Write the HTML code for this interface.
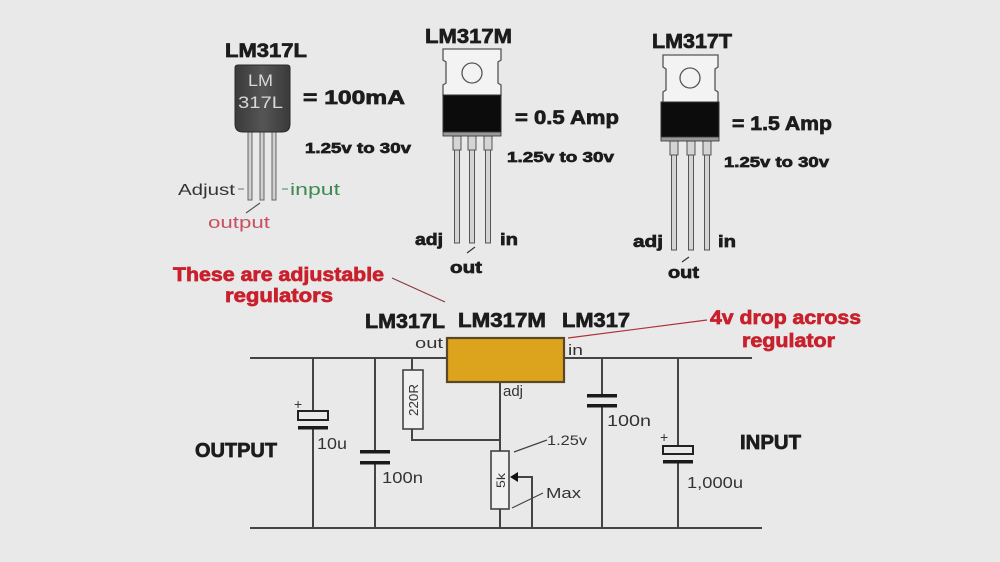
<!DOCTYPE html>
<html>
<head>
<meta charset="utf-8">
<style>
html,body{margin:0;padding:0;background:#e9e9e9;}
svg{display:block;}
.b{font-family:"Liberation Sans",Arial,sans-serif;font-weight:bold;fill:#1c1c1c;stroke:#1c1c1c;stroke-width:0.7;}
.r{font-family:"Liberation Sans",Arial,sans-serif;fill:#333;}
.red{font-family:"Liberation Sans",Arial,sans-serif;font-weight:bold;fill:#c8202c;stroke:#c8202c;stroke-width:0.7;}
</style>
</head>
<body>
<svg width="1000" height="562" viewBox="0 0 1000 562" xmlns="http://www.w3.org/2000/svg">
<defs>
<linearGradient id="g92" x1="0" y1="0" x2="1" y2="0">
<stop offset="0" stop-color="#3a3a3a"/><stop offset="0.5" stop-color="#555"/><stop offset="1" stop-color="#3a3a3a"/>
</linearGradient>
</defs>
<rect width="1000" height="562" fill="#e9e9e9"/>

<!-- ===== LM317L TO-92 ===== -->
<text class="b" x="225" y="57" font-size="19" textLength="82" lengthAdjust="spacingAndGlyphs">LM317L</text>
<g stroke="#666" stroke-width="1" fill="#cfcfcf">
<rect x="248" y="128" width="4" height="72"/>
<rect x="260" y="128" width="4" height="72"/>
<rect x="272" y="128" width="4" height="72"/>
</g>
<path d="M238,65 L287,65 Q290,65 290,68 L290,124 Q290,132 282,132 L243,132 Q235,132 235,124 L235,68 Q235,65 238,65 Z" fill="url(#g92)" stroke="#2a2a2a" stroke-width="1"/>
<text x="248" y="86" font-family="Liberation Sans,Arial,sans-serif" font-size="17" fill="#d8d8d8" textLength="25" lengthAdjust="spacingAndGlyphs">LM</text>
<text x="238" y="108" font-family="Liberation Sans,Arial,sans-serif" font-size="17" fill="#d8d8d8" textLength="45" lengthAdjust="spacingAndGlyphs">317L</text>
<text class="b" x="303" y="104" font-size="19" textLength="102" lengthAdjust="spacingAndGlyphs">= 100mA</text>
<text class="b" x="305" y="153" font-size="15" textLength="106" lengthAdjust="spacingAndGlyphs">1.25v to 30v</text>
<text class="r" x="178" y="195" font-size="16" textLength="57" lengthAdjust="spacingAndGlyphs">Adjust</text>
<line x1="238" y1="189" x2="244" y2="189" stroke="#888" stroke-width="1.2"/>
<line x1="282" y1="189" x2="288" y2="189" stroke="#5a9a6a" stroke-width="1.2"/>
<text x="290" y="195" font-family="Liberation Sans,Arial,sans-serif" font-size="17" fill="#3c8a52" textLength="50" lengthAdjust="spacingAndGlyphs">input</text>
<line x1="246" y1="213" x2="260" y2="203" stroke="#555" stroke-width="1.2"/>
<text x="208" y="228" font-family="Liberation Sans,Arial,sans-serif" font-size="17" fill="#c85060" textLength="62" lengthAdjust="spacingAndGlyphs">output</text>

<!-- ===== LM317M TO-220 ===== -->
<text class="b" x="425" y="43" font-size="20" textLength="87" lengthAdjust="spacingAndGlyphs">LM317M</text>
<g stroke="#555" stroke-width="1" fill="#d4d4d4">
<rect x="453" y="136" width="8" height="14"/>
<rect x="468" y="136" width="8" height="14"/>
<rect x="484" y="136" width="8" height="14"/>
<rect x="454.5" y="150" width="5" height="93"/>
<rect x="469.5" y="150" width="5" height="93"/>
<rect x="485.5" y="150" width="5" height="93"/>
</g>
<path d="M443,49 L501,49 L501,60 L498,62 L498,83 L501,85 L501,96 L443,96 L443,85 L446,83 L446,62 L443,60 Z" fill="#f3f3f3" stroke="#555" stroke-width="1.3"/>
<circle cx="472" cy="73" r="10" fill="#f3f3f3" stroke="#555" stroke-width="1.3"/>
<rect x="443" y="95" width="58" height="37" fill="#0c0c0c" stroke="#333" stroke-width="1"/>
<rect x="443" y="132" width="58" height="4" fill="#9a9a9a" stroke="#333" stroke-width="0.8"/>
<text class="b" x="515" y="124" font-size="19" textLength="104" lengthAdjust="spacingAndGlyphs">= 0.5 Amp</text>
<text class="b" x="507" y="162" font-size="15" textLength="107" lengthAdjust="spacingAndGlyphs">1.25v to 30v</text>
<text class="b" x="415" y="245" font-size="17" textLength="28" lengthAdjust="spacingAndGlyphs">adj</text>
<text class="b" x="500" y="245" font-size="17" textLength="18" lengthAdjust="spacingAndGlyphs">in</text>
<text class="b" x="450" y="273" font-size="17" textLength="32" lengthAdjust="spacingAndGlyphs">out</text>
<line x1="467" y1="253" x2="475" y2="247" stroke="#333" stroke-width="1.2"/>

<!-- ===== LM317T TO-220 ===== -->
<text class="b" x="652" y="48" font-size="20" textLength="80" lengthAdjust="spacingAndGlyphs">LM317T</text>
<g stroke="#555" stroke-width="1" fill="#d4d4d4">
<rect x="670" y="141" width="8" height="14"/>
<rect x="687" y="141" width="8" height="14"/>
<rect x="703" y="141" width="8" height="14"/>
<rect x="671.5" y="155" width="5" height="95"/>
<rect x="688.5" y="155" width="5" height="95"/>
<rect x="704.5" y="155" width="5" height="95"/>
</g>
<path d="M663,55 L718,55 L718,67 L715,69 L715,90 L718,92 L718,103 L663,103 L663,92 L666,90 L666,69 L663,67 Z" fill="#f3f3f3" stroke="#555" stroke-width="1.3"/>
<circle cx="690" cy="78" r="10" fill="#f3f3f3" stroke="#555" stroke-width="1.3"/>
<rect x="661" y="102" width="58" height="35" fill="#0c0c0c" stroke="#333" stroke-width="1"/>
<rect x="661" y="137" width="58" height="4" fill="#9a9a9a" stroke="#333" stroke-width="0.8"/>
<text class="b" x="732" y="130" font-size="19" textLength="100" lengthAdjust="spacingAndGlyphs">= 1.5 Amp</text>
<text class="b" x="724" y="167" font-size="15" textLength="105" lengthAdjust="spacingAndGlyphs">1.25v to 30v</text>
<text class="b" x="633" y="247" font-size="17" textLength="30" lengthAdjust="spacingAndGlyphs">adj</text>
<text class="b" x="718" y="247" font-size="17" textLength="18" lengthAdjust="spacingAndGlyphs">in</text>
<text class="b" x="668" y="278" font-size="17" textLength="31" lengthAdjust="spacingAndGlyphs">out</text>
<line x1="682" y1="262" x2="689" y2="257" stroke="#333" stroke-width="1.2"/>

<!-- ===== Circuit ===== -->
<text class="red" x="173" y="281" font-size="19" textLength="211" lengthAdjust="spacingAndGlyphs">These are adjustable</text>
<text class="red" x="225" y="302" font-size="19" textLength="108" lengthAdjust="spacingAndGlyphs">regulators</text>
<line x1="392" y1="278" x2="445" y2="302" stroke="#8a3a40" stroke-width="1.2"/>

<text class="b" x="365" y="328" font-size="20" textLength="80" lengthAdjust="spacingAndGlyphs">LM317L</text>
<text class="b" x="458" y="327" font-size="20" textLength="88" lengthAdjust="spacingAndGlyphs">LM317M</text>
<text class="b" x="562" y="327" font-size="20" textLength="68" lengthAdjust="spacingAndGlyphs">LM317</text>
<text class="red" x="710" y="324" font-size="19" textLength="151" lengthAdjust="spacingAndGlyphs">4v drop across</text>
<text class="red" x="742" y="347" font-size="19" textLength="93" lengthAdjust="spacingAndGlyphs">regulator</text>
<line x1="568" y1="338" x2="707" y2="320" stroke="#b0303a" stroke-width="1.2"/>

<text class="r" x="415" y="348" font-size="15" textLength="28" lengthAdjust="spacingAndGlyphs">out</text>
<text class="r" x="568" y="355" font-size="15" textLength="15" lengthAdjust="spacingAndGlyphs">in</text>
<text class="r" x="503" y="396" font-size="15" textLength="20" lengthAdjust="spacingAndGlyphs">adj</text>

<g stroke="#444" stroke-width="2" fill="none">
<line x1="250" y1="358" x2="447" y2="358"/>
<line x1="564" y1="358" x2="752" y2="358"/>
<line x1="250" y1="528" x2="762" y2="528"/>
<line x1="313" y1="358" x2="313" y2="411"/>
<line x1="313" y1="428" x2="313" y2="528"/>
<line x1="375" y1="358" x2="375" y2="452"/>
<line x1="375" y1="463" x2="375" y2="528"/>
<line x1="412" y1="358" x2="412" y2="370"/>
<polyline points="412,429 412,440 500,440"/>
<line x1="500" y1="382" x2="500" y2="451"/>
<line x1="500" y1="509" x2="500" y2="528"/>
<polyline points="514,477 532,477 532,528"/>
<line x1="602" y1="358" x2="602" y2="396"/>
<line x1="602" y1="406" x2="602" y2="528"/>
<line x1="678" y1="358" x2="678" y2="446"/>
<line x1="678" y1="462" x2="678" y2="528"/>
</g>

<rect x="447" y="338" width="117" height="44" fill="#dca31c" stroke="#5a4628" stroke-width="2.2"/>

<rect x="298" y="411" width="30" height="9" fill="#e9e9e9" stroke="#222" stroke-width="2"/>
<rect x="298" y="426" width="30" height="3.5" fill="#1a1a1a"/>
<text class="r" x="294" y="409" font-size="14">+</text>
<text class="r" x="317" y="449" font-size="16" textLength="30" lengthAdjust="spacingAndGlyphs">10u</text>

<rect x="360" y="450" width="30" height="3.5" fill="#1a1a1a"/>
<rect x="360" y="461" width="30" height="3.5" fill="#1a1a1a"/>
<text class="r" x="382" y="483" font-size="16" textLength="41" lengthAdjust="spacingAndGlyphs">100n</text>

<rect x="403" y="370" width="20" height="59" fill="#f0f0f0" stroke="#444" stroke-width="1.6"/>
<text class="r" x="0" y="0" font-size="13" transform="translate(418,416) rotate(-90)" textLength="32" lengthAdjust="spacingAndGlyphs">220R</text>

<rect x="491" y="451" width="18" height="58" fill="#f0f0f0" stroke="#444" stroke-width="1.6"/>
<text class="r" x="0" y="0" font-size="12" transform="translate(505,488) rotate(-90)" textLength="15" lengthAdjust="spacingAndGlyphs">5k</text>
<polygon points="510,477 518,472 518,482" fill="#111"/>
<line x1="514" y1="452" x2="547" y2="440" stroke="#444" stroke-width="1.2"/>
<line x1="512" y1="508" x2="543" y2="493" stroke="#444" stroke-width="1.2"/>
<text class="r" x="547" y="445" font-size="14" textLength="40" lengthAdjust="spacingAndGlyphs">1.25v</text>
<text class="r" x="546" y="498" font-size="15" textLength="35" lengthAdjust="spacingAndGlyphs">Max</text>

<rect x="587" y="394" width="30" height="3.5" fill="#1a1a1a"/>
<rect x="587" y="404" width="30" height="3.5" fill="#1a1a1a"/>
<text class="r" x="607" y="426" font-size="16" textLength="44" lengthAdjust="spacingAndGlyphs">100n</text>

<rect x="663" y="446" width="30" height="8" fill="#e9e9e9" stroke="#222" stroke-width="2"/>
<rect x="663" y="460" width="30" height="3.5" fill="#1a1a1a"/>
<text class="r" x="660" y="442" font-size="14">+</text>
<text class="r" x="687" y="488" font-size="16" textLength="56" lengthAdjust="spacingAndGlyphs">1,000u</text>

<text class="b" x="195" y="457" font-size="20" textLength="82" lengthAdjust="spacingAndGlyphs">OUTPUT</text>
<text class="b" x="740" y="449" font-size="20" textLength="61" lengthAdjust="spacingAndGlyphs">INPUT</text>
</svg>
</body>
</html>
